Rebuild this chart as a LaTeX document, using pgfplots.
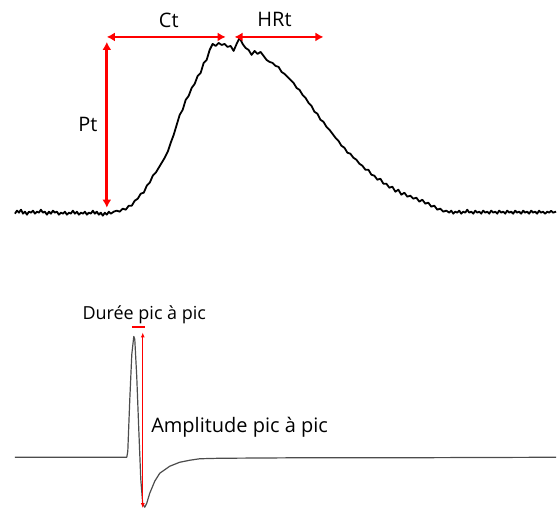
\documentclass[border=0pt]{standalone}
\usepackage{fontspec}
\setmainfont{Open Sans}
\usepackage{pgfplots}
\pgfplotsset{compat=1.18}
\usetikzlibrary{arrows.meta}
\begin{document}
\begin{tikzpicture}
\begin{axis}[
  scale only axis, width=557pt, height=511pt,
  xmin=0, xmax=557, ymin=0, ymax=511, y dir=reverse,
  hide axis, clip=false,
]
\path (rel axis cs:0,0) rectangle (rel axis cs:1,1);
% top trace
\addplot[black, line width=1.8pt, line join=round] table {
15 214
17 211
19 213
21 210
23 214
25 212
27 215
29 212
31 213
33 211
35 214
37 212
39 213
41 210
43 213
45 212
47 215
49 212
51 214
53 211
55 213
57 212
59 215
61 213
63 214
65 212
67 215
69 213
71 214
73 211
75 214
77 212
79 215
81 213
83 214
85 212
87 215
89 213
91 214
93 211
95 214
97 212
99 215
101 213
103 216
105 213
107 215
109 212
111 214
114 212
117 211
120 212
123 209
126 210
129 206
132 206
135 201
138 199
141 194
144 193
147 186
150 183
153 176
156 173
159 168
162 163
165 158
168 152
171 143
174 135
177 125
180 115
183 110
186 100
189 96
192 88
195 84
198 76
201 73
204 63
207 60
210 50
213 44
216 46
219 43
222 45
225 44
228 47
231 46
234 51
237 44
240 38
243 44
246 48
249 50
252 55
255 51
258 54
261 52
264 56
267 60
270 62
273 63
276 66
279 67
282 72
285 74
288 77
291 80
294 83
297 88
300 90
303 95
306 98
309 103
312 106
315 112
318 114
321 120
324 122
327 127
330 130
333 134
336 138
339 141
342 146
345 148
348 153
351 154
354 158
357 160
360 164
363 166
366 170
369 170
372 175
375 176
378 180
381 179
384 184
387 184
390 188
393 187
396 192
399 190
402 195
405 193
408 197
411 196
414 199
417 198
420 202
423 200
426 204
429 203
432 207
435 206
438 210
441 209
444 212
447 211
450 213
452 211
454 214
456 212
458 213
460 211
462 214
464 212
466 213
468 210
470 213
472 212
474 214
476 211
478 213
480 212
482 214
484 211
486 213
488 212
490 214
492 211
494 213
496 212
498 214
500 211
502 213
504 212
506 214
508 211
510 213
512 212
514 214
516 211
518 213
520 212
522 214
524 211
526 213
528 212
530 214
532 211
534 213
536 212
538 214
540 211
542 213
544 212
546 214
548 212
550 213
552 211
554 213
557 212
};
% bottom trace
\addplot[black!70, line width=1.2pt, line join=round] table {
15 458
60 458
100 458
127 458
128 452
130 400
132 355
134 337
135 340
137 378
139 430
141 480
143 505
145 508
147 504
150 494
155 482
160 474
170 467
180 463
190 461
200 459.5
220 459
300 458.5
400 458.5
557 458
};
% annotations
\draw[red, line width=2.8pt, {Latex[length=8pt,width=9pt]}-{Latex[length=8pt,width=9pt]}] (axis cs:107,37) -- (axis cs:226,37);
\draw[red, line width=2.8pt, {Latex[length=8pt,width=9pt]}-{Latex[length=8pt,width=9pt]}] (axis cs:235,37) -- (axis cs:324,37);
\draw[red, line width=2.8pt, {Latex[length=8pt,width=9pt]}-{Latex[length=8pt,width=9pt]}] (axis cs:107,42) -- (axis cs:107,208);
\node[font=\fontsize{20}{24}\selectfont, anchor=base] at (axis cs:169,28) {Ct};
\node[font=\fontsize{20}{24}\selectfont, anchor=base] at (axis cs:275,27) {HRt};
\node[font=\fontsize{20}{24}\selectfont, anchor=base] at (axis cs:88,132) {Pt};
\draw[red, line width=1.3pt, -{Latex[length=5pt,width=4pt]}] (axis cs:143,507) -- (axis cs:143,333);
\draw[red, line width=1.3pt, -{Latex[length=5pt,width=4pt]}] (axis cs:143,340) -- (axis cs:143,509);
\draw[red, line width=2pt] (axis cs:132,328) -- (axis cs:145,328);
\node[font=\fontsize{18}{22}\selectfont, anchor=base] at (axis cs:144.5,320) {Durée pic à pic};
\node[font=\fontsize{20}{24}\selectfont, anchor=base west] at (axis cs:148,433) {Amplitude pic à pic};
\end{axis}
\end{tikzpicture}
\end{document}
